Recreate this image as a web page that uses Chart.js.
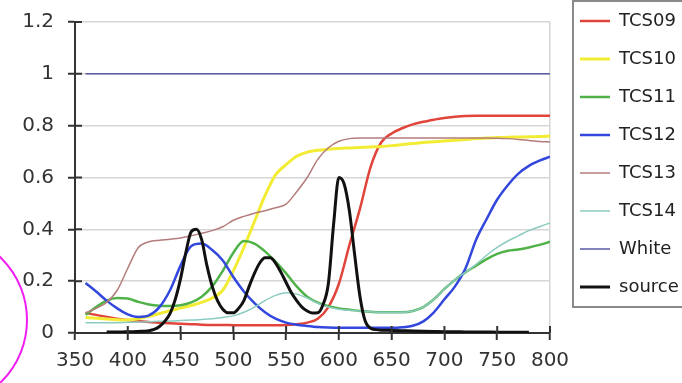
<!DOCTYPE html>
<html>
<head>
<meta charset="utf-8">
<title>TCS</title>
<script src="https://cdn.jsdelivr.net/npm/chart.js@4.4.1/dist/chart.umd.min.js"></script>
<style>
  html, body { margin: 0; padding: 0; background: #fff; overflow: hidden; }
  #grafico { position: absolute; left: 0; top: -8px; }
</style>
</head>
<body>
<canvas id="grafico" width="682" height="391"></canvas>
<script>
// Comprimentos de onda (nm) das amostras TCS
const wavelengths = [360, 370, 380, 390, 400, 410, 420, 430, 440, 450, 460, 470, 480, 490, 500,
  510, 520, 530, 540, 550, 560, 570, 580, 590, 600, 610, 620, 630, 640, 650,
  660, 670, 680, 690, 700, 710, 720, 730, 740, 750, 760, 770, 780, 790, 800];

const tcs09 = [0.077, 0.07, 0.062, 0.055, 0.05, 0.045, 0.042, 0.04, 0.038, 0.036, 0.034, 0.032, 0.031, 0.031, 0.03,
  0.03, 0.03, 0.03, 0.03, 0.031, 0.034, 0.04, 0.055, 0.1, 0.19, 0.34, 0.48, 0.64, 0.735, 0.77,
  0.79, 0.805, 0.815, 0.823, 0.83, 0.834, 0.837, 0.838, 0.838, 0.838, 0.838, 0.838, 0.838, 0.838, 0.838];
const tcs10 = [0.06, 0.057, 0.054, 0.051, 0.05, 0.055, 0.064, 0.075, 0.086, 0.096, 0.106, 0.118, 0.135, 0.165, 0.24,
  0.33, 0.43, 0.53, 0.61, 0.65, 0.682, 0.698, 0.705, 0.709, 0.712, 0.714, 0.716, 0.718, 0.72, 0.723,
  0.727, 0.731, 0.735, 0.738, 0.741, 0.744, 0.747, 0.75, 0.752, 0.754, 0.755, 0.756, 0.757, 0.758, 0.76];
const tcs11 = [0.07, 0.1, 0.125, 0.135, 0.133, 0.12, 0.11, 0.105, 0.104, 0.107, 0.118, 0.14, 0.18, 0.24, 0.31,
  0.355, 0.345, 0.315, 0.275, 0.23, 0.18, 0.14, 0.117, 0.103, 0.095, 0.09, 0.085, 0.082, 0.08, 0.08,
  0.08, 0.085, 0.1, 0.13, 0.17, 0.205, 0.235, 0.26, 0.285, 0.305, 0.317, 0.322, 0.33, 0.34, 0.352];
const tcs12 = [0.193, 0.16, 0.125, 0.095, 0.072, 0.062, 0.068, 0.1, 0.165, 0.26, 0.335, 0.345, 0.32, 0.28, 0.216,
  0.16, 0.115, 0.08, 0.055, 0.04, 0.032, 0.027, 0.023, 0.021, 0.02, 0.02, 0.02, 0.02, 0.02, 0.02,
  0.022, 0.028, 0.045, 0.08, 0.13, 0.18, 0.25, 0.36, 0.44, 0.515, 0.57, 0.615, 0.645, 0.665, 0.68];
const tcs13 = [0.077, 0.095, 0.118, 0.165, 0.25, 0.33, 0.352, 0.358, 0.362, 0.367, 0.375, 0.385, 0.395, 0.41, 0.435,
  0.45, 0.462, 0.472, 0.483, 0.497, 0.545, 0.6, 0.67, 0.715, 0.74, 0.75, 0.752, 0.752, 0.752, 0.752,
  0.752, 0.752, 0.752, 0.752, 0.752, 0.752, 0.752, 0.752, 0.752, 0.751, 0.75, 0.747, 0.743, 0.739, 0.737];
const tcs14 = [0.04, 0.04, 0.04, 0.04, 0.041, 0.042, 0.043, 0.045, 0.046, 0.048, 0.05, 0.052, 0.055, 0.06, 0.066,
  0.08, 0.1, 0.125, 0.145, 0.155, 0.15, 0.135, 0.115, 0.1, 0.092, 0.088, 0.085, 0.082, 0.08, 0.08,
  0.08, 0.085, 0.1, 0.13, 0.17, 0.205, 0.235, 0.265, 0.3, 0.33, 0.355, 0.375, 0.395, 0.41, 0.425];

// Referência branca: reflectância constante
const whiteWavelengths = [360, 800];
const white = [1, 1];

// Espectro da fonte (normalizado)
const sourceWavelengths = [380, 385, 390, 395, 400, 405, 410, 415, 420, 425, 430, 435, 440, 445, 450,
  455, 460, 465, 470, 475, 480, 485, 490, 495, 500, 505, 510, 515, 520, 525,
  530, 535, 540, 545, 550, 555, 560, 565, 570, 575, 580, 585, 590, 595, 600,
  605, 610, 615, 620, 625, 630, 635, 640, 650, 660, 670, 680, 690, 700, 710,
  720, 730, 740, 750, 760, 770, 780];
const source = [0.004, 0.004, 0.004, 0.004, 0.005, 0.005, 0.006, 0.007, 0.009, 0.014, 0.025, 0.045, 0.075, 0.13, 0.21,
  0.31, 0.39, 0.4, 0.36, 0.26, 0.18, 0.125, 0.092, 0.078, 0.078, 0.095, 0.125, 0.18, 0.23, 0.27,
  0.29, 0.29, 0.27, 0.235, 0.195, 0.155, 0.125, 0.1, 0.085, 0.077, 0.078, 0.11, 0.19, 0.42, 0.6,
  0.575, 0.47, 0.3, 0.14, 0.045, 0.018, 0.013, 0.011, 0.01, 0.009, 0.008, 0.007, 0.006, 0.005, 0.005,
  0.004, 0.004, 0.004, 0.003, 0.003, 0.003, 0.003];

const xTicks = [350, 400, 450, 500, 550, 600, 650, 700, 750, 800];
const yTicks = [0, 0.2, 0.4, 0.6, 0.8, 1, 1.2];

const fonte = "'DejaVu Sans', sans-serif";
const corEixo = '#333';
const corGrade = '#d6d6d6';

const serie = (label, xs, ys, cor, largura, ordem) => ({
  label,
  data: xs.map((w, i) => ({ x: w, y: ys[i] })),
  borderColor: cor,
  backgroundColor: cor,
  borderWidth: largura,
  order: ordem
});

// Excel desenha a última série por cima: ordem invertida
const datasets = [
  serie('TCS09', wavelengths, tcs09, '#e0443a', 2.5, 8),
  serie('TCS10', wavelengths, tcs10, '#f2ec34', 3, 7),
  serie('TCS11', wavelengths, tcs11, '#4fb248', 2.5, 6),
  serie('TCS12', wavelengths, tcs12, '#3347dd', 2.5, 5),
  serie('TCS13', wavelengths, tcs13, '#b47c7c', 1.5, 4),
  serie('TCS14', wavelengths, tcs14, '#8ccbc2', 1.5, 3),
  serie('White', whiteWavelengths, white, '#5a5aa6', 1.5, 2),
  serie('source', sourceWavelengths, source, '#111', 3, 1)
];

// Marcas de escala cruzando os eixos (parte interna)
const ticksCruzados = {
  id: 'ticksCruzados',
  afterDraw(chart) {
    const { ctx, chartArea, scales: { x, y } } = chart;
    ctx.save();
    ctx.strokeStyle = corEixo;
    ctx.lineWidth = 2;
    ctx.beginPath();
    x.ticks.forEach(t => {
      const px = x.getPixelForValue(t.value);
      ctx.moveTo(px, chartArea.bottom);
      ctx.lineTo(px, chartArea.bottom - 7);
    });
    y.ticks.forEach(t => {
      const py = y.getPixelForValue(t.value);
      ctx.moveTo(chartArea.left, py);
      ctx.lineTo(chartArea.left + 7, py);
    });
    ctx.stroke();
    ctx.restore();
  }
};

// Moldura da legenda
const molduraLegenda = {
  id: 'molduraLegenda',
  afterDraw(chart) {
    const lg = chart.legend;
    const pad = lg.options.labels.padding;
    const fs = lg.options.labels.font.size;
    const n = lg.legendItems.length;
    const primeiro = lg.top + pad + fs / 2;
    const ultimo = primeiro + (n - 1) * (fs + pad);
    const ctx = chart.ctx;
    ctx.save();
    ctx.strokeStyle = '#8a8a8a';
    ctx.lineWidth = 2;
    ctx.strokeRect(lg.left + 13, primeiro - 20, chart.width, ultimo - primeiro + 40);
    ctx.restore();
  }
};

// Círculo de destaque em magenta
const destaque = {
  id: 'destaque',
  afterDraw(chart) {
    const ctx = chart.ctx;
    ctx.save();
    ctx.strokeStyle = '#f01ef0';
    ctx.lineWidth = 2;
    ctx.beginPath();
    ctx.arc(-60, 328, 87, 0, Math.PI * 2);
    ctx.stroke();
    ctx.restore();
  }
};

const ctx = document.getElementById('grafico').getContext('2d');
new Chart(ctx, {
  type: 'line',
  data: { datasets },
  options: {
    responsive: false,
    animation: false,
    layout: { padding: 0 },
    elements: {
      point: { radius: 0, hoverRadius: 0 },
      line: { tension: 0.4, cubicInterpolationMode: 'monotone', fill: false }
    },
    scales: {
      x: {
        type: 'linear',
        min: 350,
        max: 800,
        afterBuildTicks: s => { s.ticks = xTicks.map(v => ({ value: v })); },
        afterFit: s => { s.height = 50; },
        border: { color: corEixo, width: 2 },
        grid: {
          color: c => (c.tick && c.tick.value === 800 ? corGrade : 'transparent'),
          lineWidth: 1.5,
          tickColor: corEixo,
          tickWidth: 2,
          tickLength: 7
        },
        ticks: { color: corEixo, font: { family: fonte, size: 20 }, padding: 9, maxRotation: 0, callback: v => String(v) }
      },
      y: {
        min: 0,
        max: 1.2,
        afterBuildTicks: s => { s.ticks = yTicks.map(v => ({ value: v })); },
        afterFit: s => { s.width = 75; },
        border: { color: corEixo, width: 2 },
        grid: { color: corGrade, lineWidth: 1.5, tickColor: corEixo, tickWidth: 2, tickLength: 7 },
        ticks: { color: corEixo, font: { family: fonte, size: 20 }, padding: 14, callback: v => String(v) }
      },
      // caixas vazias só para o espaçamento do gráfico
      topo: {
        type: 'linear',
        position: 'top',
        grid: { display: false },
        border: { display: false },
        ticks: { display: false },
        afterFit: s => { s.height = 30; }
      },
      folga: {
        type: 'linear',
        position: 'right',
        grid: { display: false },
        border: { display: false },
        ticks: { display: false },
        afterFit: s => { s.width = 10; }
      }
    },
    plugins: {
      tooltip: { enabled: false },
      legend: {
        position: 'right',
        align: 'start',
        maxWidth: 122,
        labels: {
          usePointStyle: true,
          pointStyle: 'line',
          pointStyleWidth: 30,
          padding: 20,
          color: '#222',
          font: { family: fonte, size: 18 },
          sort: (a, b) => a.datasetIndex - b.datasetIndex
        }
      }
    }
  },
  plugins: [ticksCruzados, molduraLegenda, destaque]
});
</script>
</body>
</html>
